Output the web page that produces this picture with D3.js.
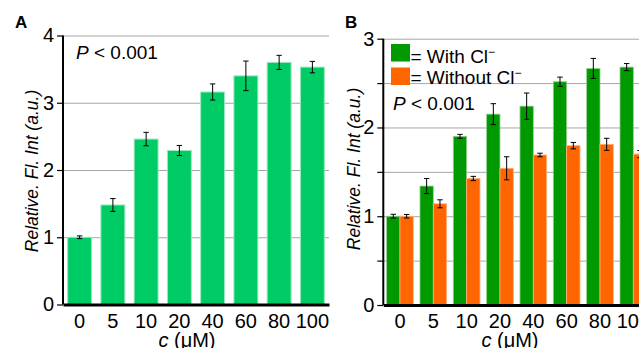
<!DOCTYPE html>
<html>
<head>
<meta charset="utf-8">
<script src="https://cdn.jsdelivr.net/npm/d3@7"></script>
<style>
  body { margin: 0; background: #fff; }
  svg { display: block; font-family: "Liberation Sans", Arial, sans-serif; }
  .grid line { stroke: #a6a6a6; stroke-width: 1; }
  .axis path, .axis line { stroke: #000; }
  .axis text { font-size: 20px; fill: #000; }
</style>
</head>
<body>
<div id="chart"></div>
<script>
// concentrations (uM)
var concs = ["0", "5", "10", "20", "40", "60", "80", "100"];

// panel A
var aMean = [1.0, 1.48, 2.46, 2.29, 3.16, 3.40, 3.60, 3.53];
var aErr  = [0.02, 0.095, 0.10, 0.075, 0.12, 0.22, 0.105, 0.085];
var aTicks = [0, 1, 2, 3, 4];

// panel B
var withCl     = [1.0, 1.34, 1.90, 2.15, 2.24, 2.515, 2.665, 2.68];
var withClErr  = [0.022, 0.085, 0.022, 0.118, 0.148, 0.052, 0.113, 0.04];
var noCl       = [1.0, 1.14, 1.425, 1.54, 1.69, 1.795, 1.81, 1.70];
var noClErr    = [0.02, 0.045, 0.024, 0.13, 0.02, 0.036, 0.068, 0.04];
var bTicks = [0, 0.5, 1, 1.5, 2, 2.5, 3];

var w = 639, h = 348;

var svg = d3.select("#chart").append("svg")
    .attr("width", w)
    .attr("height", h);

function errBars(g, x, y, vals, errs, off, cap) {
    vals.forEach(function(v, i) {
        var cx = x(concs[i]) + off;
        var e = g.append("g").attr("stroke", "#000").attr("stroke-width", 1);
        e.append("line").attr("x1", cx).attr("x2", cx)
            .attr("y1", y(v + errs[i])).attr("y2", y(v - errs[i]));
        e.append("line").attr("x1", cx - cap).attr("x2", cx + cap)
            .attr("y1", y(v + errs[i])).attr("y2", y(v + errs[i]));
        e.append("line").attr("x1", cx - cap).attr("x2", cx + cap)
            .attr("y1", y(v - errs[i])).attr("y2", y(v - errs[i]));
    });
}

function grid(g, y, left, right, ticks) {
    g.append("g").attr("class", "grid")
        .selectAll("line").data(ticks.filter(function(d) { return d > 0; }))
        .enter().append("line")
        .attr("x1", left).attr("x2", right)
        .attr("y1", function(d) { return y(d) + 0.5; })
        .attr("y2", function(d) { return y(d) + 0.5; });
}

function axes(g, x, y, left, bottom, ticks, tickFmt) {
    var yAxis = d3.axisLeft(y).tickValues(ticks).tickSize(6).tickPadding(3)
        .tickFormat(tickFmt);
    var ya = g.append("g").attr("class", "axis")
        .attr("transform", "translate(" + left + ",0)")
        .call(yAxis);
    ya.select(".domain").attr("stroke-width", 2).attr("d", "M0," + y.range()[1] + "V" + bottom);
    ya.selectAll(".tick line").attr("stroke-width", 1.2);

    var xAxis = d3.axisBottom(x).tickSize(0).tickPadding(9);
    var xa = g.append("g").attr("class", "axis")
        .attr("transform", "translate(0," + bottom + ")")
        .call(xAxis);
    xa.select(".domain").attr("stroke-width", 3);
}

// ---------- Panel A ----------
var aLeft = 63, aRight = 329, aTop = 35.5, aBottom = 304.5;
var xA = d3.scaleBand().domain(concs).range([aLeft, aRight]).paddingInner(0.28).paddingOuter(0.14);
var yA = d3.scaleLinear().domain([0, 4]).range([aBottom, aTop]);
var gA = svg.append("g");

grid(gA, yA, aLeft, aRight, aTicks);

gA.selectAll("rect.bar").data(aMean).enter().append("rect")
    .attr("class", "bar")
    .attr("x", function(d, i) { return xA(concs[i]); })
    .attr("y", function(d) { return yA(d); })
    .attr("width", xA.bandwidth())
    .attr("height", function(d) { return yA(0) - yA(d); })
    .attr("fill", "#00cc66")
    .attr("stroke", "#9ee8bf")
    .attr("stroke-width", 1);

errBars(gA, xA, yA, aMean, aErr, xA.bandwidth() / 2, 2.7);
axes(gA, xA, yA, aLeft, aBottom, aTicks, d3.format("d"));

gA.append("text").attr("x", 15).attr("y", 28)
    .attr("font-size", 17).attr("font-weight", "bold").text("A");
gA.append("text").attr("x", 76).attr("y", 59).attr("font-size", 19)
    .html('<tspan font-style="italic">P</tspan> &lt; 0.001');
gA.append("text").attr("transform", "translate(38,171) rotate(-90)")
    .attr("text-anchor", "middle").attr("font-size", 17.5).attr("font-style", "italic")
    .text("Relative. Fl. Int (a.u.)");
gA.append("text").attr("x", 187).attr("y", 347).attr("text-anchor", "middle")
    .attr("font-size", 20)
    .html('<tspan font-style="italic">c</tspan> (\u03bcM)');

// ---------- Panel B ----------
var bLeft = 383.3, bRight = 650, bTop = 38.7, bBottom = 305;
var xB = d3.scaleBand().domain(concs).range([bLeft, bRight]).paddingInner(0.2).paddingOuter(0.1);
var yB = d3.scaleLinear().domain([0, 3]).range([bBottom, bTop]);
var gB = svg.append("g");

grid(gB, yB, bLeft, bRight, bTicks);

var half = xB.bandwidth() / 2;
gB.selectAll("rect.with").data(withCl).enter().append("rect")
    .attr("class", "with")
    .attr("x", function(d, i) { return xB(concs[i]); })
    .attr("y", function(d) { return yB(d); })
    .attr("width", half)
    .attr("height", function(d) { return yB(0) - yB(d); })
    .attr("fill", "#009900")
    .attr("stroke", "#8fd08f").attr("stroke-width", 0.8);
gB.selectAll("rect.without").data(noCl).enter().append("rect")
    .attr("class", "without")
    .attr("x", function(d, i) { return xB(concs[i]) + half; })
    .attr("y", function(d) { return yB(d); })
    .attr("width", half)
    .attr("height", function(d) { return yB(0) - yB(d); })
    .attr("fill", "#ff6600")
    .attr("stroke", "#ffb080").attr("stroke-width", 0.8);

errBars(gB, xB, yB, withCl, withClErr, half / 2, 2.7);
errBars(gB, xB, yB, noCl, noClErr, half * 1.5, 2.7);
axes(gB, xB, yB, bLeft, bBottom, bTicks, function(d) { return d % 1 === 0 ? d : ""; });

gB.append("text").attr("x", 345).attr("y", 28)
    .attr("font-size", 17).attr("font-weight", "bold").text("B");

// legend
var legend = [
    { label: "= With Cl", color: "#009900", y: 44, base: 62.5 },
    { label: "= Without Cl", color: "#ff6600", y: 67.5, base: 83.5 }
];
legend.forEach(function(l) {
    gB.append("rect").attr("x", 391).attr("y", l.y).attr("width", 19).attr("height", 17.5)
        .attr("fill", l.color);
    gB.append("text").attr("x", 410.5).attr("y", l.base).attr("font-size", 19)
        .html(l.label + '<tspan dy="-7" font-size="12">\u2212</tspan>');
});

gB.append("text").attr("x", 393).attr("y", 110).attr("font-size", 19)
    .html('<tspan font-style="italic">P</tspan> &lt; 0.001');
gB.append("text").attr("transform", "translate(360,169) rotate(-90)")
    .attr("text-anchor", "middle").attr("font-size", 17.5).attr("font-style", "italic")
    .text("Relative. Fl. Int (a.u.)");
gB.append("text").attr("x", 510).attr("y", 347).attr("text-anchor", "middle")
    .attr("font-size", 20)
    .html('<tspan font-style="italic">c</tspan> (\u03bcM)');
</script>
</body>
</html>
